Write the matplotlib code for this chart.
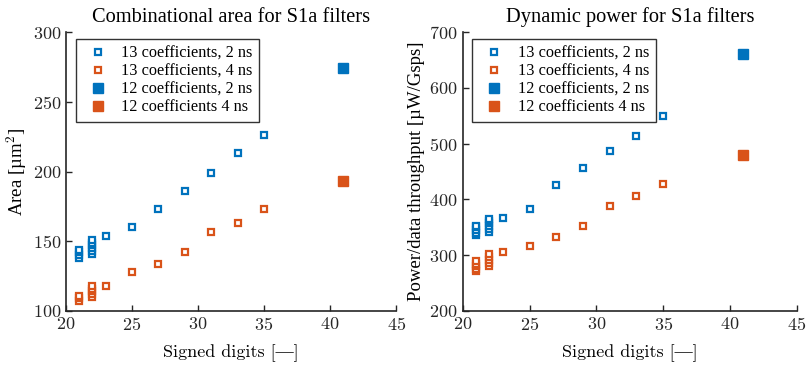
import matplotlib.pyplot as plt
import numpy as np

plt.rcParams['font.family'] = ['Liberation Serif', 'DejaVu Serif']
plt.rcParams['mathtext.fontset'] = 'cm'
plt.rcParams['axes.formatter.use_mathtext'] = True

BLUE = '#0072BD'
ORANGE = '#D95319'
CM = ['cmr10', 'Liberation Serif']

# signed digits per design point
sd_13_2ns = [21, 21, 21, 21, 22, 22, 22, 22, 22, 22, 23, 25, 27, 29, 31, 33, 35]
sd_13_4ns = [21, 21, 21, 22, 22, 22, 22, 22, 23, 25, 27, 29, 31, 33, 35]
sd_12 = [41]

# combinational area [um^2]
area_13_2ns = [138, 140, 142, 144, 141, 143, 145, 147, 149, 151, 154, 160, 173, 186, 199, 213, 226]
area_13_4ns = [107, 109, 111, 110, 112, 114, 116, 118, 118, 128, 134, 142, 157, 163, 173]
area_12_2ns = [274]
area_12_4ns = [193]

# dynamic power per throughput [uW/Gsps]
sd_13_2ns_p = [21, 21, 21, 21, 21, 22, 22, 22, 22, 22, 22, 23, 25, 27, 29, 31, 33, 35]
sd_13_4ns_p = [21, 21, 21, 21, 21, 22, 22, 22, 22, 22, 23, 25, 27, 29, 31, 33, 35]
power_13_2ns = [336, 340, 345, 350, 353, 342, 347, 352, 357, 362, 365, 366, 383, 425, 456, 487, 513, 550]
power_13_4ns = [271, 275, 280, 285, 290, 281, 286, 292, 297, 303, 306, 316, 332, 352, 388, 407, 428]
power_12_2ns = [660]
power_12_4ns = [480]

labels = ['13 coefficients, 2 ns', '13 coefficients, 4 ns',
          '12 coefficients, 2 ns', '12 coefficients 4 ns']


def draw(ax, x13a, y13a, x13b, y13b, y12a, y12b, title, ylabel, ylim, yticks):
    ax.plot(x13a, y13a, 's', ms=5, mfc='white', mec=BLUE, mew=1.6, label=labels[0])
    ax.plot(x13b, y13b, 's', ms=5, mfc='white', mec=ORANGE, mew=1.6, label=labels[1])
    ax.plot(sd_12, y12a, 's', ms=6.5, color=BLUE, label=labels[2])
    ax.plot(sd_12, y12b, 's', ms=6.5, color=ORANGE, label=labels[3])
    ax.set_xlim(20, 45)
    ax.set_ylim(*ylim)
    ax.set_xticks(np.arange(20, 46, 5))
    ax.set_yticks(yticks)
    ax.set_title(title, fontsize=14.7, pad=7)
    ax.set_xlabel('Signed digits [—]', fontsize=13, family=CM, labelpad=8)
    ax.set_ylabel(ylabel, fontsize=13.5, labelpad=3)
    for s in ['top', 'right']:
        ax.spines[s].set_visible(False)
    for s in ['left', 'bottom']:
        ax.spines[s].set_linewidth(1.2)
        ax.spines[s].set_color('#262626')
    ax.tick_params(direction='in', length=4, width=1, labelsize=13, colors='#262626')
    for t in ax.get_xticklabels() + ax.get_yticklabels():
        t.set_family('cmr10')
    leg = ax.legend(loc='upper left', bbox_to_anchor=(0.029, 0.975), fontsize=11.7,
                    frameon=True, fancybox=False, edgecolor='black',
                    handlelength=1.9, handletextpad=0.5, borderpad=0.4,
                    labelspacing=0.12, borderaxespad=0.0)
    leg.get_frame().set_linewidth(1.0)


fig = plt.figure(figsize=(8.09, 3.65), dpi=100)
ax1 = fig.add_axes([0.0816, 0.148, 0.408, 0.764])
ax2 = fig.add_axes([0.572, 0.148, 0.413, 0.764])

draw(ax1, sd_13_2ns, area_13_2ns, sd_13_4ns, area_13_4ns, area_12_2ns, area_12_4ns,
     'Combinational area for S1a filters', 'Area [µm$^2$]',
     (100, 300), [100, 150, 200, 250, 300])
draw(ax2, sd_13_2ns_p, power_13_2ns, sd_13_4ns_p, power_13_4ns, power_12_2ns, power_12_4ns,
     'Dynamic power for S1a filters', 'Power/data throughput [µW/Gsps]',
     (200, 700), [200, 300, 400, 500, 600, 700])

fig.savefig('out.png', dpi=100)
